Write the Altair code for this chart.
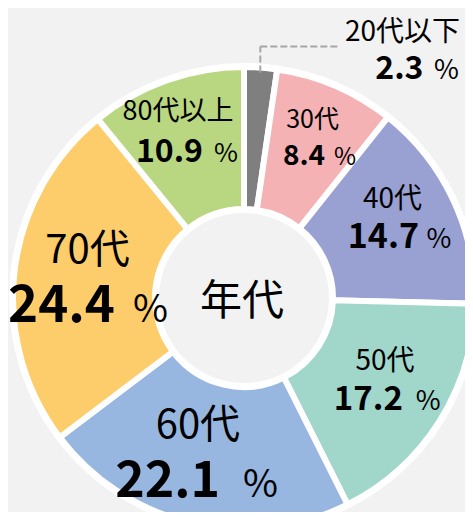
import altair as alt
import pandas as pd

# ---- data ----
ages = ["20代以下", "30代", "40代", "50代", "60代", "70代", "80代以上"]
shares = [2.3, 8.4, 14.7, 17.2, 22.1, 24.4, 10.9]
slice_colors = ["#7f7f7f", "#f4b2b5", "#99a0d2", "#a1d6cb", "#97b7e1", "#fdcd6b", "#b9d780"]
center_title = "年代"
pct_sign = "%"

# ---- layout / style ----
W, H = 457, 504
CX, CY = 236, 290
R_OUT, R_IN = 231, 89
RING_OUT, RING_IN = 235, 85
FONT = "Noto Sans CJK JP"
BG = "#f2f2f2"
LEAD_COLOR = "#a6a6a6"

# per-slice label styles: anchor radius, font sizes, offsets
styles = {
    "20代以下": dict(r=228, ls=28, ns=32, ps=27, ldx=142, ldy=-29.5, ndx=163, ndy=8.5, pdx=173.5),
    "30代":     dict(r=165, ls=25, ns=28, ps=24, ldx=3, ldy=-18.3, ndx=15.5, ndy=18.4, pdx=24.5),
    "40代":     dict(r=165, ls=28, ns=34, ps=27, ldx=-1, ldy=-20, ndx=25.5, ndy=20, pdx=33),
    "50代":     dict(r=165, ls=28, ns=33, ps=27, ldx=1.7, ldy=-16.4, ndx=19.7, ndy=23.6, pdx=32.5),
    "60代":     dict(r=165, ls=40, ns=50, ps=38, ldx=-8.6, ldy=-20.4, ndx=13.4, ndy=38, pdx=36.4),
    "70代":     dict(r=165, ls=40, ns=51, ps=38, ldx=7.3, ldy=-15.2, ndx=34.8, ndy=43.2, pdx=52.8),
    "80代以上": dict(r=165, ls=27, ns=32, ps=26, ldx=-10.6, ldy=-22.6, ndx=14.4, ndy=19.1, pdx=25.5),
}

df = pd.DataFrame({"age": ages, "share": shares, "order": list(range(len(ages)))})

theta_scale = alt.Scale(domain=[0, 100])

base = (
    alt.Chart(df)
    .transform_window(cum="sum(share)", sort=[alt.SortField("order")])
    .transform_calculate(start="datum.cum - datum.share", mid="datum.cum - datum.share / 2")
)

ring = base.mark_arc(radius=RING_OUT, radius2=RING_IN, color="white").encode(
    theta=alt.Theta("start:Q", scale=theta_scale, stack=False),
    theta2="cum:Q",
    x=alt.value(CX),
    y=alt.value(CY),
)

arcs = base.mark_arc(radius=R_OUT, radius2=R_IN, stroke="white", strokeWidth=6).encode(
    theta=alt.Theta("start:Q", scale=theta_scale, stack=False),
    theta2="cum:Q",
    color=alt.Color("age:N", scale=alt.Scale(domain=ages, range=slice_colors), legend=None),
    x=alt.value(CX),
    y=alt.value(CY),
)

layers = [ring, arcs]

# leader line for the smallest slice
R_LEAD = 226
lead = base.transform_filter(alt.datum.age == ages[0]).transform_calculate(
    px=f"{CX} + {R_LEAD} * sin(datum.mid * PI / 50)",
    py=f"{CY} - {R_LEAD} * cos(datum.mid * PI / 50)",
).transform_calculate(ptop="datum.py - 26", pend="datum.px + 80")
lead_v = lead.mark_rule(color=LEAD_COLOR, strokeWidth=2, strokeDash=[7, 3]).encode(
    x=alt.X("px:Q", scale=None, axis=None),
    y=alt.Y("py:Q", scale=None, axis=None),
    y2="ptop:Q",
)
lead_h = lead.mark_rule(color=LEAD_COLOR, strokeWidth=2, strokeDash=[7, 3]).encode(
    x=alt.X("px:Q", scale=None, axis=None),
    x2="pend:Q",
    y=alt.Y("ptop:Q", scale=None, axis=None),
)
layers += [lead_v, lead_h]

for age in ages:
    s = styles[age]
    sub = base.transform_filter(alt.datum.age == age)
    pos = dict(
        theta=alt.Theta("mid:Q", scale=theta_scale, stack=False),
        x=alt.value(CX),
        y=alt.value(CY),
    )
    lab = sub.mark_text(
        radius=s["r"], font=FONT, fontSize=s["ls"], color="black", align="center",
        baseline="alphabetic", dx=s["ldx"], dy=s["ldy"],
    ).encode(text="age:N", **pos)
    num = sub.mark_text(
        radius=s["r"], font=FONT, fontSize=s["ns"], fontWeight="bold", color="black", align="right",
        baseline="alphabetic", dx=s["ndx"], dy=s["ndy"],
    ).encode(text=alt.Text("share:Q", format=".1f"), **pos)
    pct = sub.mark_text(
        radius=s["r"], font=FONT, fontSize=s["ps"], color="black", align="left",
        baseline="alphabetic", dx=s["pdx"], dy=s["ndy"],
    ).encode(text=alt.value(pct_sign), **pos)
    layers += [lab, num, pct]

center = alt.Chart(pd.DataFrame({"t": [center_title]})).mark_text(
    font=FONT, fontSize=42, color="black", align="center", baseline="middle", dx=-2, dy=4
).encode(text="t:N", x=alt.value(CX), y=alt.value(CY))
layers.append(center)

chart = (
    alt.layer(*layers)
    .properties(
        width=W,
        height=H,
        background=BG,
        padding=0,
        autosize=alt.AutoSizeParams(type="none"),
    )
    .configure_view(stroke=None)
)

chart.save("out.html", embed_options={"renderer": "svg", "actions": False})
